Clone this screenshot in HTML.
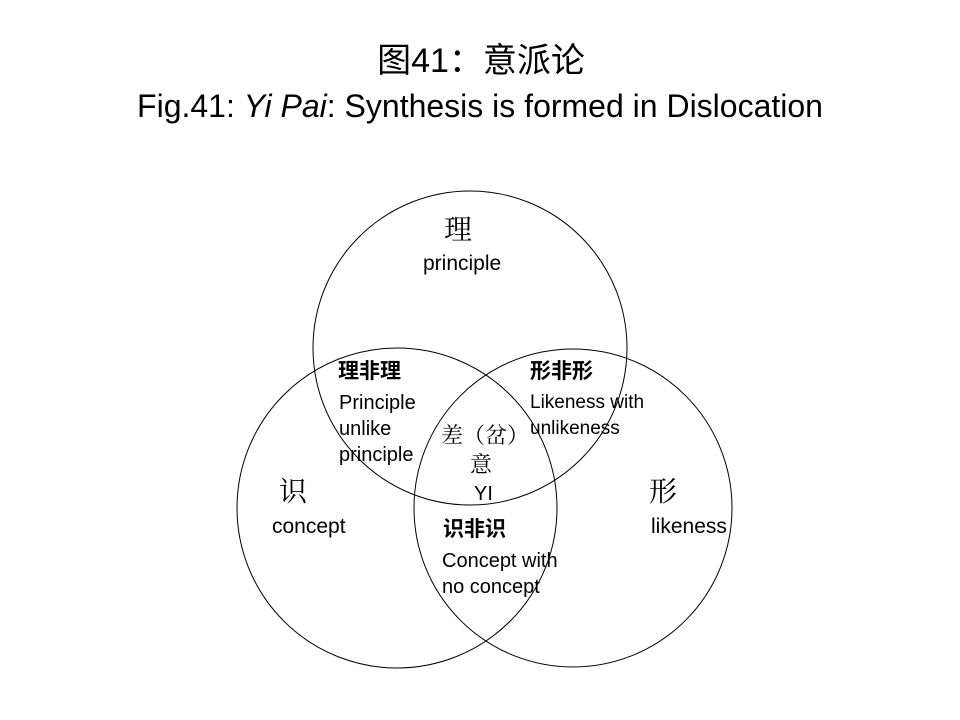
<!DOCTYPE html>
<html><head><meta charset="utf-8"><style>
body{margin:0;width:960px;height:720px;background:#fff;position:relative;overflow:hidden;font-family:"Liberation Sans","Noto Sans CJK SC",sans-serif;color:#000}
.t{position:absolute;white-space:nowrap;line-height:1}
</style></head><body>
<div class="t" style="left:0;width:962px;text-align:center;top:44px;font-size:34px;">图41：意派论</div>
<div class="t" style="left:0;width:960px;text-align:center;top:90px;font-size:32px;">Fig.41: <i>Yi Pai</i>: Synthesis is formed in Dislocation</div>
<svg style="position:absolute;left:0;top:0" width="960" height="720">
<g fill="none" stroke="#000" stroke-width="1">
<circle cx="470" cy="348" r="157"/>
<circle cx="397" cy="508" r="160"/>
<circle cx="573" cy="508" r="159"/>
</g></svg>
<div class="t" style="left:444px;top:214px;font-size:28px;font-family:'Noto Serif CJK SC',serif">理</div>
<div class="t" style="left:423px;top:253px;font-size:21px">principle</div>
<div class="t" style="left:338px;top:361px;font-size:21px;font-weight:bold">理非理</div>
<div class="t" style="left:339px;top:390px;font-size:20px;line-height:26px">Principle<br>unlike<br>principle</div>
<div class="t" style="left:530px;top:361px;font-size:21px;font-weight:bold">形非形</div>
<div class="t" style="left:530px;top:390px;font-size:19px;line-height:26px">Likeness with<br>unlikeness</div>
<div class="t" style="left:441px;top:424px;font-size:22px;font-family:'Noto Serif CJK SC',serif">差（岔）</div>
<div class="t" style="left:470px;top:453px;font-size:22px;font-family:'Noto Serif CJK SC',serif">意</div>
<div class="t" style="left:474px;top:484px;font-size:20px">YI</div>
<div class="t" style="left:279px;top:476px;font-size:28px;font-family:'Noto Serif CJK SC',serif">识</div>
<div class="t" style="left:272px;top:516px;font-size:21px">concept</div>
<div class="t" style="left:649px;top:476px;font-size:28px;font-family:'Noto Serif CJK SC',serif">形</div>
<div class="t" style="left:651px;top:516px;font-size:21px">likeness</div>
<div class="t" style="left:443px;top:519px;font-size:21px;font-weight:bold">识非识</div>
<div class="t" style="left:442px;top:548px;font-size:20px;line-height:26px">Concept with<br>no concept</div>
</body></html>
